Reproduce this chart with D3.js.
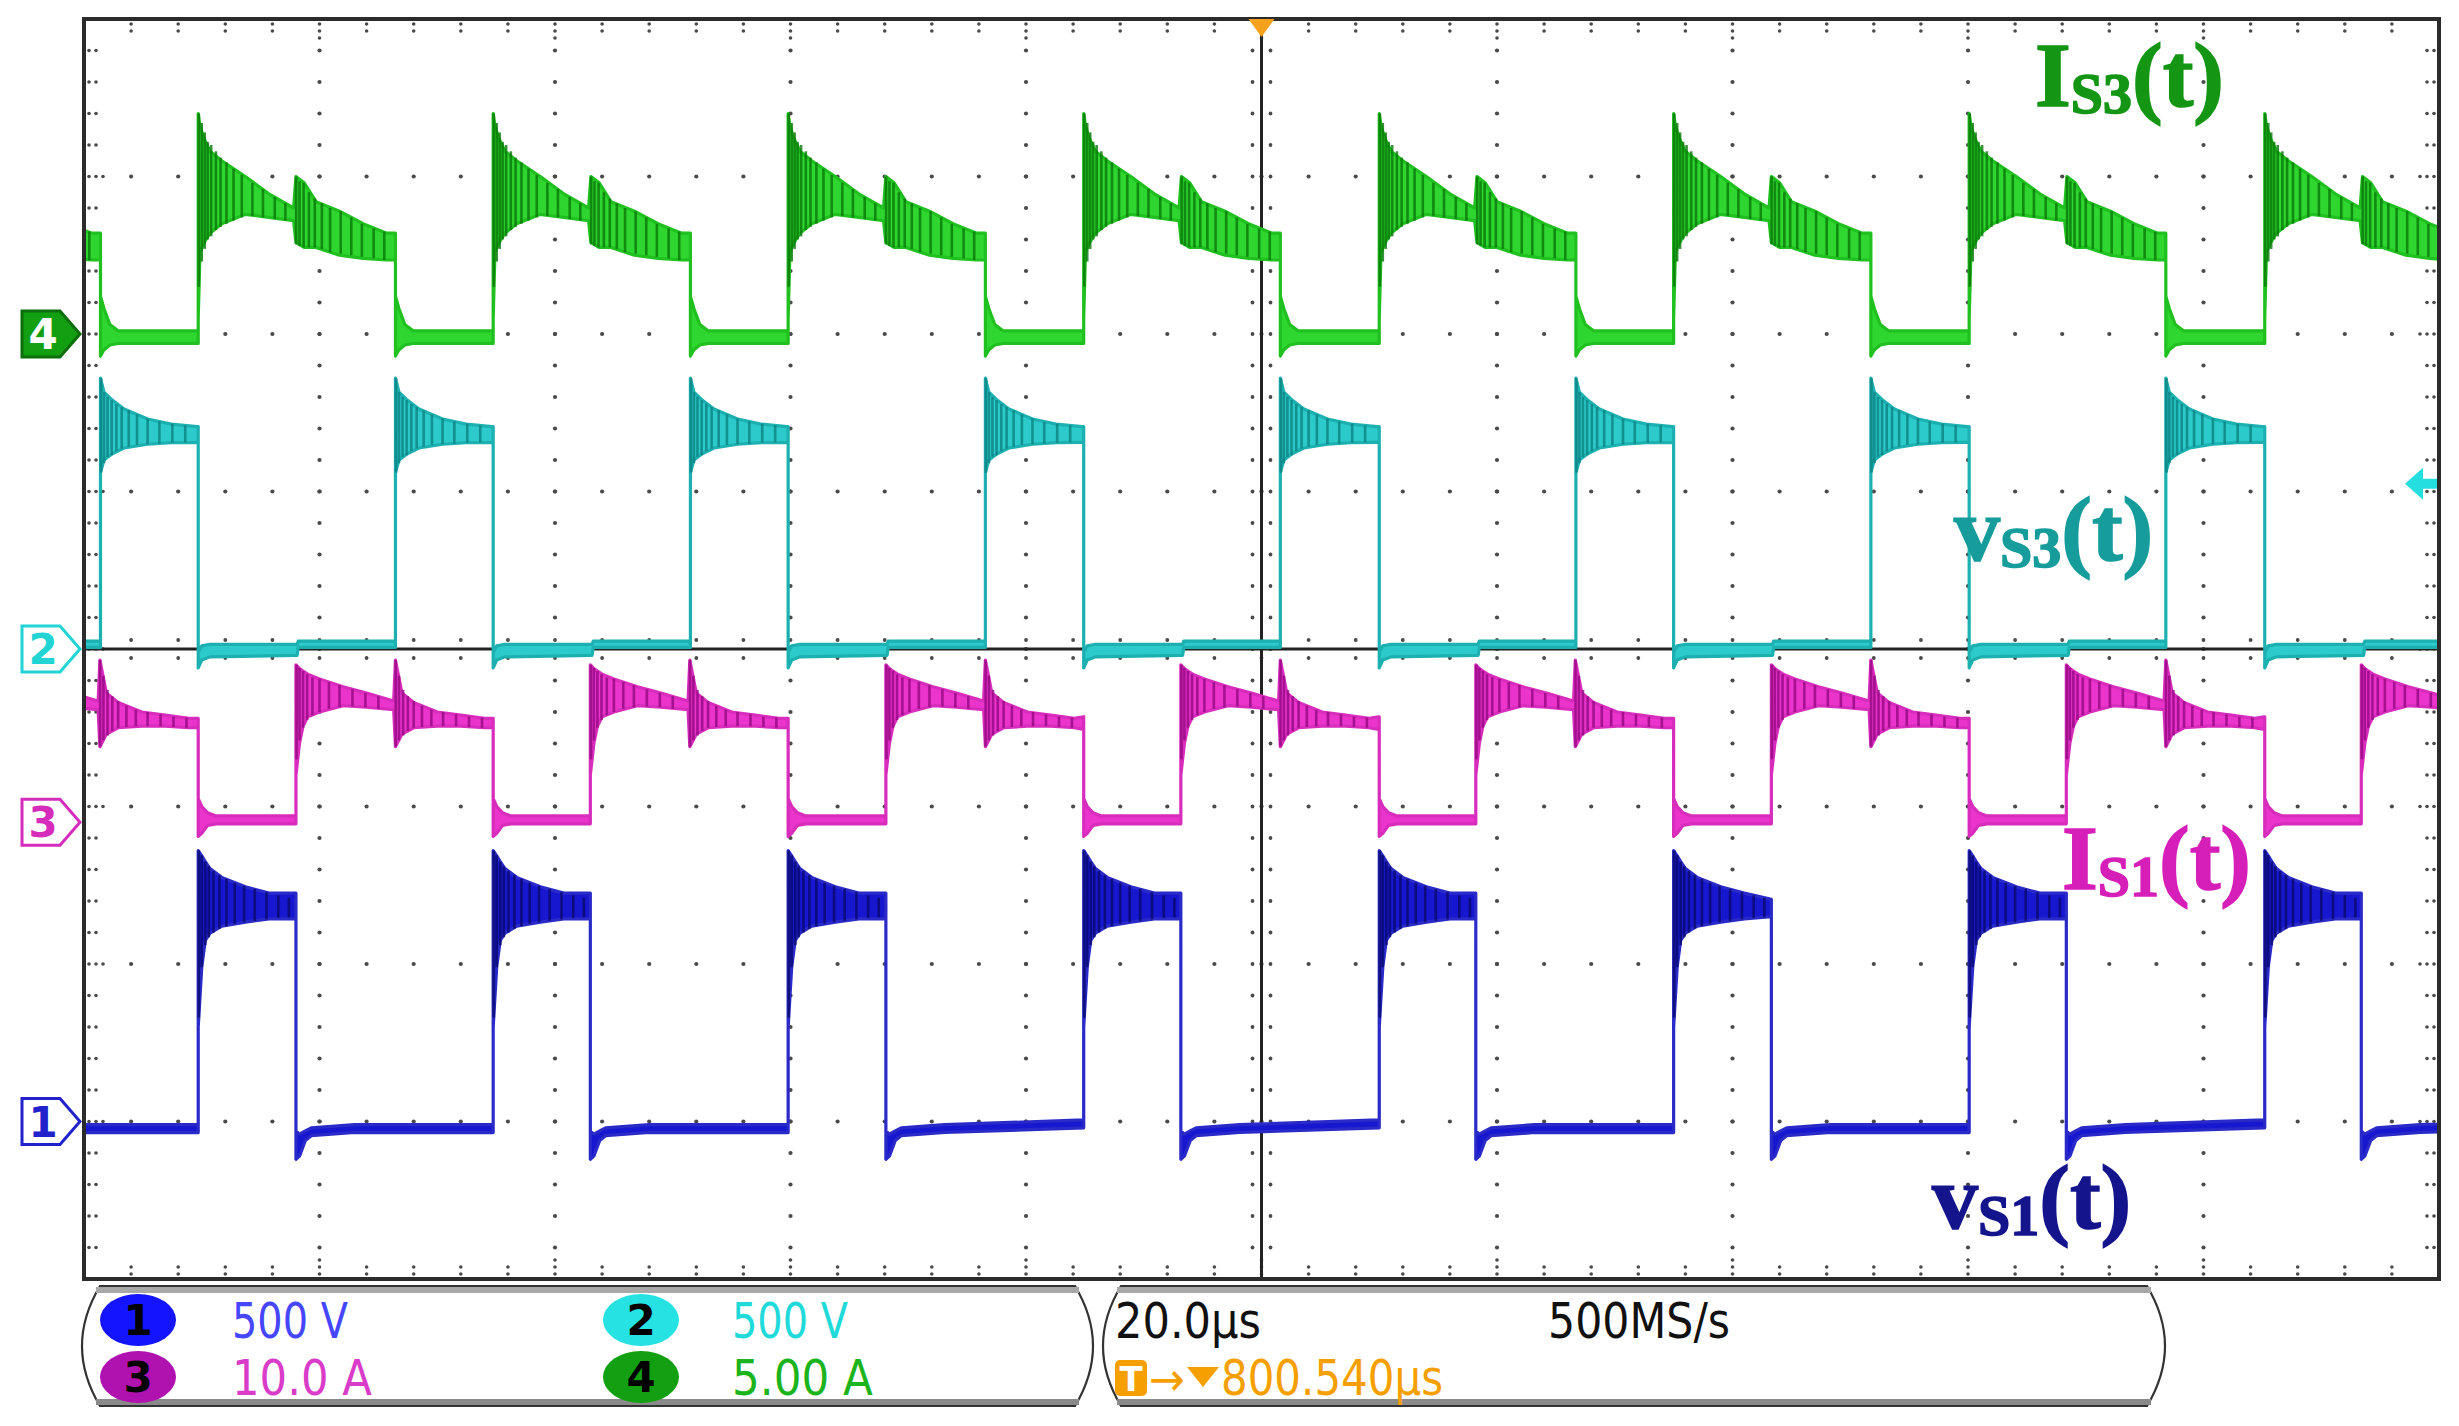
<!DOCTYPE html>
<html><head><meta charset="utf-8">
<script src="https://cdn.jsdelivr.net/npm/d3@7/dist/d3.min.js"></script>
<style>html,body{margin:0;padding:0;background:#fff;}svg{display:block;}</style>
</head><body>
<svg id="c" width="2459" height="1426"></svg>
<script>
// ---------------- DATA ----------------
// switching instants, µs (20 µs/div, 10 div)
const tRise = [-15.35, 9.7, 34.75, 59.8, 84.9, 110.0, 135.0, 160.1, 185.2];   // iS3 on, vS1 rises, iS1 falls
const tFall = [1.4, 26.45, 51.5, 76.55, 101.6, 126.7, 151.75, 176.8, 201.9];  // iS3 off, vS3 rises
const tM    = [-7.1, 18.0, 43.0, 68.1, 93.15, 118.2, 143.3, 168.35, 193.4];  // iS1 on, vS1 falls

// waveform envelopes per state: [dt from state start (µs), upper, lower]
const iS3High = [[0,7.0,0.5],[0.15,6.6,2.6],[0.5,6.2,2.9],[1,5.8,3.2],[2,5.5,3.5],[4,5.0,3.8],[6,4.45,3.7],[8.1,4.0,3.6],[8.3,5.0,2.9],[9,4.8,2.75],[10,4.2,2.75],[12,3.9,2.5],[14,3.5,2.4],[16,3.2,2.35],[16.75,3.3,2.3]];
const iS3Low  = [[0,1.2,-0.7],[0.3,0.8,-0.5],[0.8,0.3,-0.35],[1.5,0.1,-0.3],[8.3,0.1,-0.3]];
const iS3Spikes = [[0.05,7.0,1.5],[0.3,6.7,2.3],[0.55,6.4,2.7],[0.8,6.1,3.0],[1.1,6.0,3.1],[1.5,5.8,3.3],[1.9,5.6,3.4],[2.4,5.45,3.5],[3.0,5.25,3.6],[3.7,5.05,3.7],[4.6,4.8,3.75],[5.5,4.6,3.7],[6.5,4.35,3.65],[7.4,4.15,3.6],
  [8.32,5.0,2.85],[8.6,4.85,2.8],[8.95,4.8,2.75],[9.4,4.5,2.75],[9.9,4.3,2.75],[10.5,4.15,2.7],[11.2,4.0,2.6],[12.1,3.9,2.55],[13.0,3.7,2.5],[13.9,3.5,2.45],[14.9,3.35,2.4],[15.8,3.25,2.35]];

const vS3High = [[0,860,560],[0.3,815,600],[1,790,620],[2,762,638],[4,730,650],[6,714,655],[8.2,706,656]];
const vS3Low  = [[0,-10,-60],[0.3,10,-35],[1,15,-25],[8.4,15,-20],[8.5,25,5],[16.75,25,5]];
const vS3Spikes = [[0.05,860,560],[0.3,815,590],[0.6,800,610],[0.95,790,615],[1.35,778,628],[1.8,768,636],[2.4,758,642],[3.1,745,648],[4.0,732,650],[5.0,722,652],[6.1,716,655],[7.2,710,656]];

const iS1High = [[0,10.0,3.0],[0.3,9.75,5.0],[0.6,9.6,6.1],[1,9.4,6.7],[2,9.1,7.0],[4,8.6,7.4],[6,8.2,7.3],[8.3,7.7,7.15],[8.45,10.3,4.8],[9,8.2,5.6],[10,7.6,6.0],[12,7.0,6.1],[14,6.8,6.1],[16,6.6,6.0],[16.8,6.7,5.9]];
const iS1Low  = [[0,1.5,-0.9],[0.3,1.0,-0.7],[0.8,0.6,-0.2],[1.5,0.4,-0.1],[8.3,0.4,-0.1]];
const iS1Spikes = [[0.05,10.0,4.0],[0.3,9.8,5.2],[0.6,9.6,6.0],[0.95,9.4,6.5],[1.4,9.2,6.8],[2.0,9.1,7.0],[2.8,8.9,7.2],[3.7,8.7,7.3],[4.8,8.45,7.35],[5.9,8.2,7.3],[7.0,8.0,7.2],
  [8.47,10.3,4.8],[8.75,9.3,5.2],[9.1,8.4,5.5],[9.5,8.0,5.8],[10.0,7.7,6.0],[10.7,7.4,6.05],[11.5,7.15,6.1],[12.5,7.0,6.1],[13.6,6.85,6.1],[14.7,6.7,6.05],[15.8,6.65,6.0]];

const vS1High = [[0,860,300],[0.3,843,490],[0.6,825,575],[1,803,598],[2,775,620],[4,745,633],[6,725,643],[8.3,705,650]];
const vS1Low  = [[0,-30,-120],[0.3,-40,-110],[0.8,-30,-60],[1.3,-20,-45],[5,-10,-35],[16.8,5,-20]];
const vS1Spikes = [[0.05,860,330],[0.3,845,490],[0.6,825,560],[0.9,810,585],[1.3,795,600],[1.8,782,612],[2.4,770,620],[3.1,758,628],[3.9,748,633],[4.8,738,637],[5.8,728,642],[6.8,718,646],[7.7,710,648]];

// channel readouts
const chNums   = ["1","2","3","4"];
const chScales = ["500 V","500 V","10.0 A","5.00 A"];
const timeBase = "20.0µs";
const sampleRate = "500MS/s";
const trigPos = "800.540µs";

// ---------------- SCALES ----------------
const svg = d3.select("#c");
const X0 = 84, X1 = 2439, Y0 = 19, Y1 = 1279;
const xT = d3.scaleLinear().domain([0,200]).range([X0,X1]);
const xD = d3.scaleLinear().domain([0,10]).range([X0,X1]);
const yD = d3.scaleLinear().domain([0,8]).range([Y0,Y1]);

// ---------------- GRATICULE ----------------
const g = svg.append("g");
const dotCol = "#4a4a4a";
function dot(x,y,r){ g.append("circle").attr("cx",x).attr("cy",y).attr("r",r||2.1).attr("fill",dotCol); }
d3.range(1,10).forEach(i=>{ if(i===5) return; d3.range(1,40).forEach(k=>dot(xD(i), yD(k/5))); });
d3.range(1,8).forEach(j=>{ if(j===4) return; d3.range(1,50).forEach(k=>dot(xD(k/5), yD(j))); });
d3.range(1,50).forEach(k=>{
  const x=xD(k/5), major = k%5===0;
  [5,12].concat(major?[19]:[]).forEach(o=>{ dot(x,Y0+o,1.8); dot(x,Y1-o,1.8); });
});
d3.range(1,40).forEach(k=>{
  const y=yD(k/5), major = k%5===0;
  [5,12].concat(major?[19]:[]).forEach(o=>{ dot(X0+o,y,1.8); dot(X1-o,y,1.8); });
});
d3.range(1,50).forEach(k=>{ dot(xD(k/5), yD(4)-9, 1.9); dot(xD(k/5), yD(4)+9, 1.9); });
d3.range(1,40).forEach(k=>{ dot(xD(5)-9, yD(k/5), 1.9); dot(xD(5)+9, yD(k/5), 1.9); });
g.append("line").attr("x1",xD(5)).attr("x2",xD(5)).attr("y1",Y0).attr("y2",Y1).attr("stroke","#222").attr("stroke-width",3);
g.append("line").attr("x1",X0).attr("x2",X1).attr("y1",yD(4)).attr("y2",yD(4)).attr("stroke","#222").attr("stroke-width",3);

// ---------------- TRACES ----------------
svg.append("clipPath").attr("id","clip").append("rect").attr("x",X0).attr("y",Y0).attr("width",X1-X0).attr("height",Y1-Y0);
const tr = svg.append("g").attr("clip-path","url(#clip)");

function events(hiEdges, loEdges){
  const ev = hiEdges.map(t=>({t,s:"hi"})).concat(loEdges.map(t=>({t,s:"lo"})));
  ev.sort((a,b)=>a.t-b.t);
  return ev.map((e,i)=>({t0:e.t, t1: i+1<ev.length ? ev[i+1].t : 240, s:e.s}));
}
const channels = [
  {name:"vS3", per:500, zero:4.0, hi:vS3High, lo:vS3Low, sp:vS3Spikes, segs:events(tFall,tRise), fill:"#2ccaca", edge:"#1cb0b0", dark:"#0d8282"},
  {name:"iS3", per:5,   zero:2.0, hi:iS3High, lo:iS3Low, sp:iS3Spikes, segs:events(tRise,tFall), fill:"#30d630", edge:"#1fc01f", dark:"#0a780a"},
  {name:"iS1", per:10,  zero:5.1, hi:iS1High, lo:iS1Low, sp:iS1Spikes, segs:events(tM,tRise),    fill:"#ea34cc", edge:"#d82cbc", dark:"#950a83"},
  {name:"vS1", per:500, zero:7.0, hi:vS1High, lo:vS1Low, sp:vS1Spikes, segs:events(tRise,tM),    fill:"#1717d0", edge:"#2a2ac8", dark:"#0a0a6e"}
];
channels.forEach(ch=>{
  const y = v => yD(ch.zero - v/ch.per);
  const pts = [];
  ch.segs.forEach(sg=>{
    const tpl = sg.s==="hi" ? ch.hi : ch.lo;
    const dur = sg.t1 - sg.t0;
    const sel = tpl.filter(p=>p[0] < dur);
    sel.forEach(p=>pts.push([sg.t0+p[0], p[1], p[2]]));
    const last = sel[sel.length-1];
    pts.push([sg.t1, last[1], last[2]]);
  });
  const area = d3.area().x(d=>xT(d[0])).y0(d=>y(d[2])).y1(d=>y(d[1]));
  tr.append("path").attr("d",area(pts)).attr("fill",ch.fill).attr("stroke",ch.edge)
    .attr("stroke-width",3.2).attr("stroke-linejoin","round");
  ch.segs.filter(sg=>sg.s==="hi").forEach(sg=>{
    ch.sp.filter(p=>p[0] < sg.t1-sg.t0).forEach(p=>{
      tr.append("line").attr("x1",xT(sg.t0+p[0])).attr("x2",xT(sg.t0+p[0]))
        .attr("y1",y(p[1])).attr("y2",y(p[2])).attr("stroke",ch.dark).attr("stroke-width",2.6).attr("opacity",0.8);
    });
  });
});

svg.append("rect").attr("x",X0).attr("y",Y0).attr("width",X1-X0).attr("height",Y1-Y0)
  .attr("fill","none").attr("stroke","#2b2b2b").attr("stroke-width",4);

svg.append("path").attr("d",`M${xD(5)-13},${Y0} L${xD(5)+13},${Y0} L${xD(5)},${Y0+18} Z`).attr("fill","#f5a11c");
svg.append("path").attr("d",`M${X1-34},${yD(2.95)} L${X1-16},${yD(2.95)-16} L${X1-16},${yD(2.95)-5} L${X1-2},${yD(2.95)-5} L${X1-2},${yD(2.95)+5} L${X1-16},${yD(2.95)+5} L${X1-16},${yD(2.95)+16} Z`).attr("fill","#25dede");

const markers = [
  {n:"4", zero:2.0, col:"#12a012", filled:true},
  {n:"2", zero:4.0, col:"#22d4d4", filled:false},
  {n:"3", zero:5.1, col:"#d52cbc", filled:false},
  {n:"1", zero:7.0, col:"#2222cc", filled:false}
];
markers.forEach(m=>{
  const cy = yD(m.zero);
  svg.append("path").attr("d",`M22,${cy-23} H60 L80,${cy} L60,${cy+23} H22 Z`)
    .attr("fill",m.filled?m.col:"#fff").attr("stroke",m.filled?"#0b6e0b":m.col).attr("stroke-width",3);
  svg.append("text").attr("x",43).attr("y",cy+15).attr("text-anchor","middle")
    .attr("font-family","DejaVu Sans, sans-serif").attr("font-weight","bold").attr("font-size",42)
    .attr("fill",m.filled?"#fff":m.col).text(m.n);
});

// ---------------- LABELS ----------------
const labels = [
  {m:"I", s:"S3", x:2035, y:106, col:"#149614"},
  {m:"v", s:"S3", x:1954, y:560, col:"#179c9c"},
  {m:"I", s:"S1", x:2062, y:889, col:"#d61fb8"},
  {m:"v", s:"S1", x:1932, y:1228, col:"#14148c"}
];
labels.forEach(l=>{
  const t = svg.append("text").attr("x",l.x).attr("y",l.y).attr("fill",l.col)
    .attr("stroke",l.col).attr("stroke-width",1.6)
    .attr("font-family","Liberation Serif, DejaVu Serif, serif").attr("font-weight","bold").attr("font-size",92);
  t.append("tspan").text(l.m);
  t.append("tspan").attr("font-size",58).attr("dy",7).text(l.s);
  t.append("tspan").attr("dy",-7).text("(t)");
});

// ---------------- READOUT PANELS ----------------
function panel(x0,x1,y0,y1){
  const b=18, ym=(y0+y1)/2;
  svg.append("path").attr("d",`M${x0+b},${y0} H${x1-b} Q${x1+b},${ym} ${x1-b},${y1} H${x0+b} Q${x0-b},${ym} ${x0+b},${y0} Z`)
    .attr("fill","#fff").attr("stroke","#333").attr("stroke-width",2.2);
  svg.append("line").attr("x1",x0+b-4).attr("x2",x1-b+4).attr("y1",y0+4).attr("y2",y0+4).attr("stroke","#a8a8a8").attr("stroke-width",6);
  svg.append("line").attr("x1",x0+b-4).attr("x2",x1-b+4).attr("y1",y1-4).attr("y2",y1-4).attr("stroke","#8a8a8a").attr("stroke-width",6);
}
panel(82,1093,1286,1406);
panel(1103,2165,1286,1406);

const badge = [
  {cx:138, cy:1320, fill:"#1414ff", tcol:"#4646ff", tx:232},
  {cx:641, cy:1320, fill:"#26e2e2", tcol:"#20dada", tx:732},
  {cx:138, cy:1377, fill:"#b012b0", tcol:"#d83cc8", tx:232},
  {cx:641, cy:1377, fill:"#12a012", tcol:"#1cb41c", tx:732}
];
const tw = [116,116,140,141];
badge.forEach((b,i)=>{
  svg.append("ellipse").attr("cx",b.cx).attr("cy",b.cy).attr("rx",38).attr("ry",26).attr("fill",b.fill);
  svg.append("text").attr("x",b.cx).attr("y",b.cy+15).attr("text-anchor","middle")
    .attr("font-family","DejaVu Sans, sans-serif").attr("font-weight","bold").attr("font-size",42).attr("fill","#000").text(chNums[i]);
  svg.append("text").attr("x",b.tx).attr("y",b.cy+18).attr("fill",b.tcol)
    .attr("font-family","DejaVu Sans, sans-serif").attr("font-size",50)
    .attr("textLength",tw[i]).attr("lengthAdjust","spacingAndGlyphs").text(chScales[i]);
});
svg.append("text").attr("x",1115).attr("y",1338).attr("fill","#111").attr("font-family","DejaVu Sans, sans-serif")
  .attr("font-size",50).attr("textLength",146).attr("lengthAdjust","spacingAndGlyphs").text(timeBase);
svg.append("text").attr("x",1548).attr("y",1338).attr("fill","#111").attr("font-family","DejaVu Sans, sans-serif")
  .attr("font-size",50).attr("textLength",182).attr("lengthAdjust","spacingAndGlyphs").text(sampleRate);
svg.append("rect").attr("x",1115).attr("y",1360).attr("width",32).attr("height",36).attr("rx",5).attr("fill","#f5a000");
svg.append("text").attr("x",1131).attr("y",1391).attr("text-anchor","middle").attr("fill","#fff")
  .attr("font-family","DejaVu Sans, sans-serif").attr("font-weight","bold").attr("font-size",34).text("T");
svg.append("text").attr("x",1149).attr("y",1395).attr("fill","#f5a000").attr("font-family","DejaVu Sans, sans-serif")
  .attr("font-size",46).attr("textLength",36).attr("lengthAdjust","spacingAndGlyphs").text("→");
svg.append("path").attr("d","M1187,1367 L1219,1367 L1203,1387 Z").attr("fill","#f5a000");
svg.append("text").attr("x",1221).attr("y",1395).attr("fill","#f5a000").attr("font-family","DejaVu Sans, sans-serif")
  .attr("font-size",50).attr("textLength",222).attr("lengthAdjust","spacingAndGlyphs").text(trigPos);
</script>
</body></html>
